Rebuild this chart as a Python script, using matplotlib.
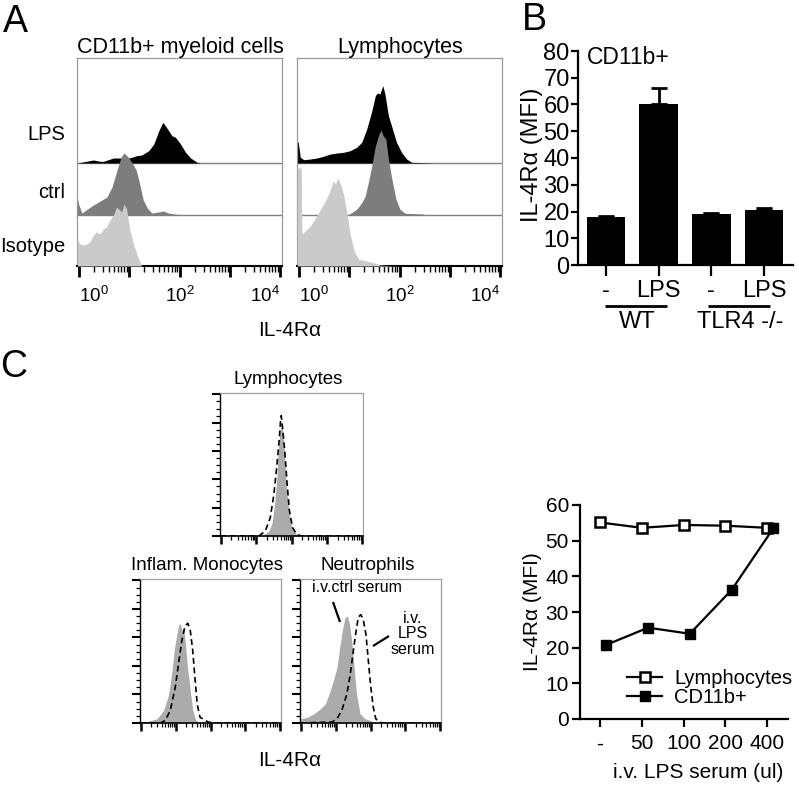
import numpy as np
import matplotlib
matplotlib.use('Agg')
import matplotlib.pyplot as plt
from matplotlib.lines import Line2D
from matplotlib.transforms import ScaledTranslation

plt.rcParams['font.family'] = ['Liberation Sans', 'DejaVu Sans']
plt.rcParams['mathtext.fontset'] = 'custom'
plt.rcParams['mathtext.rm'] = 'Liberation Sans'
plt.rcParams['mathtext.it'] = 'Liberation Sans:italic'
plt.rcParams['mathtext.bf'] = 'Liberation Sans:bold'

# ---------------- data ----------------
# Panel A: flow histograms (x = log10 intensity, y = counts)
A_titles = ['CD11b+ myeloid cells', 'Lymphocytes']
A_rows = ['LPS', 'ctrl', 'Isotype']

my_lps_x = [-0.03, 0.15, 0.29, 0.42, 0.49, 0.69, 0.82, 0.95, 1.05, 1.15, 1.25, 1.39,
            1.49, 1.59, 1.67, 1.75, 1.85, 1.92, 2.02, 2.12, 2.22, 2.35, 2.42]
my_lps_y = [0, 1.7, 3, 1.7, 1.7, 5, 5, 4.3, 5.7, 7.3, 8, 12.3,
            19, 32.3, 40.7, 35, 27.3, 25.7, 19, 10.7, 5, 0.7, 0]
my_ctrl_x = [-0.03, -0.01, 0.06, 0.26, 0.56, 0.66, 0.76, 0.84, 0.90, 0.98, 1.06, 1.14,
             1.20, 1.28, 1.36, 1.45, 1.58, 1.68, 1.78, 1.95, 2.09]
my_ctrl_y = [18, 12, 2, 9, 18, 28, 45, 58, 62, 58, 52, 45,
             33, 15, 7, 2, 3, 4, 2, 0.7, 0]
my_iso_x = [-0.03, 0.02, 0.12, 0.22, 0.29, 0.35, 0.42, 0.49, 0.55, 0.62, 0.69, 0.75,
            0.81, 0.85, 0.90, 0.95, 1.01, 1.09, 1.19, 1.25]
my_iso_y = [27, 22, 21, 24, 31, 34, 32, 37, 39, 46, 51, 59,
            56, 54, 62, 57, 37, 21, 7, 0]

ly_lps_x = [-0.03, -0.01, 0.03, 0.10, 0.23, 0.36, 0.49, 0.63, 0.76, 0.89, 1.02, 1.15,
            1.25, 1.35, 1.45, 1.52, 1.56, 1.61, 1.67, 1.71, 1.78, 1.85, 1.94, 2.04,
            2.14, 2.24, 2.34, 2.70]
ly_lps_y = [21, 21, 5.7, 3.3, 4, 5, 6.7, 9, 10, 10.7, 12.3, 15.7,
            20.7, 34, 52, 67.3, 70, 69, 77.3, 69, 47.3, 35.7, 20.7, 10.7,
            4, 0.7, 0.5, 0]
ly_ctrl_x = [0.96, 1.05, 1.15, 1.25, 1.32, 1.38, 1.45, 1.52, 1.58, 1.63, 1.68, 1.73,
             1.78, 1.85, 1.93, 2.01, 2.11, 2.47, 2.54]
ly_ctrl_y = [0, 2.3, 5.7, 12.3, 19, 32.3, 49, 69, 79, 85, 79, 75.7,
             55.7, 35.7, 15.7, 5.7, 1.7, 1, 0]
ly_iso_x = [-0.03, 0.05, 0.06, 0.13, 0.23, 0.33, 0.43, 0.49, 0.56, 0.63, 0.68, 0.73,
            0.77, 0.82, 0.89, 0.96, 1.02, 1.10, 1.19, 1.35, 1.48, 1.61, 1.81, 2.01]
ly_iso_y = [98, 98, 32, 35, 40, 48, 56.7, 61.7, 68, 76.7, 85, 81.7,
            88, 83, 71.7, 51.7, 31.7, 15, 6.7, 5, 3.3, 1, 0.3, 0]

# Panel B: bar chart
B_ticklabels = ['-', 'LPS', '-', 'LPS']
B_groups = ['WT', 'TLR4 -/-']
B_values = [17.9, 60.3, 19.1, 20.4]
B_errors = [0.3, 5.8, 0.3, 0.9]

# Panel C: histograms (% of max)
C_titles = ['Lymphocytes', 'Inflam. Monocytes', 'Neutrophils']
cl_fill_x = [0, 1.17, 1.36, 1.45, 1.52, 1.58, 1.62, 1.67, 1.71, 1.76, 1.81, 1.85, 1.92, 2.01, 2.15, 2.29, 4.0]
cl_fill_y = [0, 0, 3.5, 9, 22, 39, 57, 72, 80, 73, 55, 36, 18, 6, 1, 0, 0]
cl_dash_x = [0, 1.08, 1.26, 1.40, 1.50, 1.58, 1.65, 1.69, 1.71, 1.75, 1.81, 1.87, 1.94, 2.03, 2.15, 2.29, 4.0]
cl_dash_y = [0, 0, 3.5, 13, 29, 48, 67, 81, 85, 76, 60, 39, 18, 6, 1, 0, 0]

cm_fill_x = [0, 0.14, 0.47, 0.66, 0.80, 0.90, 0.96, 1.02, 1.08, 1.13, 1.18, 1.23, 1.27, 1.34, 1.42, 1.49, 1.58, 1.70, 4.0]
cm_fill_y = [0, 0.7, 3, 9, 20, 37, 51, 60, 68, 70, 65, 67, 58, 39, 23, 9, 2, 0, 0]
cm_dash_x = [0, 0.57, 0.71, 0.85, 0.99, 1.08, 1.18, 1.27, 1.35, 1.42, 1.49, 1.56, 1.62, 1.70, 1.84, 1.93, 2.08, 4.0]
cm_dash_y = [0, 0, 2, 9, 25, 41, 58, 68, 70, 65, 51, 30, 13, 4, 2, 0.7, 0, 0]

cn_fill_x = [0, 0.19, 0.38, 0.57, 0.71, 0.85, 0.94, 1.04, 1.13, 1.21, 1.27, 1.34, 1.40, 1.46, 1.53, 1.60, 1.70, 1.84, 1.98, 2.08, 2.2, 4.0]
cn_fill_y = [3, 4, 6.5, 10, 13.5, 23, 30, 39, 55, 67, 74, 75, 69, 58, 39, 20, 6.5, 3, 2, 0.7, 0, 0]
cn_dash_x = [0, 0.90, 1.04, 1.18, 1.32, 1.42, 1.51, 1.59, 1.65, 1.72, 1.79, 1.87, 1.93, 2.00, 2.08, 2.15, 2.26, 2.36, 4.0]
cn_dash_y = [0, 0.7, 3, 9, 20, 34, 51, 65, 74, 76, 73, 62, 46, 27, 11, 3, 0.7, 0, 0]

# Panel C: line chart
C_doses = ['-', '50', '100', '200', '400']
C_lymph = [55.1, 53.6, 54.4, 54.2, 53.6]
C_cd11b = [20.8, 25.6, 23.9, 36.2, 53.5]

# ---------------- figure ----------------
W, H = 799, 786
fig = plt.figure(figsize=(W / 100, H / 100), dpi=100)


def box(x0, y0, x1, y1):
    return fig.add_axes([x0 / W, 1 - y1 / H, (x1 - x0) / W, (y1 - y0) / H])


def ftext(x, y, s, **kw):
    kw.setdefault('ha', 'center')
    kw.setdefault('va', 'center')
    fig.text(x / W, 1 - y / H, s, **kw)


def fline(x0, y0, x1, y1, lw=1.5, color='black'):
    fig.add_artist(Line2D([x0 / W, x1 / W], [1 - y0 / H, 1 - y1 / H], lw=lw,
                          color=color, transform=fig.transFigure, solid_capstyle='butt'))


def log_ticks(ax, major_len, minor_len, major_w, minor_w):
    ax.set_xticks(np.arange(0, 5))
    ax.set_xticks([d + np.log10(k) for d in range(4) for k in range(2, 10)], minor=True)
    ax.tick_params(axis='x', which='major', direction='out', length=major_len, width=major_w)
    ax.tick_params(axis='x', which='minor', direction='out', length=minor_len, width=minor_w)


# ---- Panel A ----
ftext(15, 22, 'A', fontsize=27)
offsets = {'LPS': 103, 'ctrl': 51, 'Isotype': 0}
colors = {'LPS': 'black', 'ctrl': '#7d7d7d', 'Isotype': '#cacaca'}
A_data = [
    {'LPS': (my_lps_x, my_lps_y), 'ctrl': (my_ctrl_x, my_ctrl_y), 'Isotype': (my_iso_x, my_iso_y)},
    {'LPS': (ly_lps_x, ly_lps_y), 'ctrl': (ly_ctrl_x, ly_ctrl_y), 'Isotype': (ly_iso_x, ly_iso_y)},
]
for i, (x0, x1, xc) in enumerate([(77, 282, 180), (297, 502, 400)]):
    ax = box(x0, 58, x1, 266)
    ax.set_xlim(-0.035, 4.035)
    ax.set_ylim(0, 208)
    ax.axhline(offsets['LPS'], color='#808080', lw=1.0, zorder=1)
    ax.axhline(offsets['ctrl'], color='#808080', lw=1.0, zorder=1)
    for z, row in enumerate(A_rows):
        xs, ys = A_data[i][row]
        off = offsets[row]
        ax.fill_between(xs, off, off + np.array(ys), color=colors[row], lw=0, zorder=2 + z)
    for s in ['top', 'right', 'left']:
        ax.spines[s].set_color('#9a9a9a')
        ax.spines[s].set_linewidth(0.9)
    ax.spines['bottom'].set_color('black')
    ax.spines['bottom'].set_linewidth(1.5)
    ax.set_yticks([])
    log_ticks(ax, 8, 4, 2.0, 1.0)
    ax.set_xticklabels([r'$10^0$', '', r'$10^2$', '', r'$10^4$'], fontsize=13.5)
    labs = ax.get_xticklabels()
    for lab, ha, dx in [(labs[0], 'left', 5), (labs[2], 'center', 6), (labs[4], 'right', 2)]:
        lab.set_ha(ha)
        lab.set_transform(lab.get_transform() + ScaledTranslation(dx / 100, 0, fig.dpi_scale_trans))
    ax.tick_params(axis='x', pad=6)
    ftext(xc, 47, A_titles[i], fontsize=15.5)

ftext(65, 135, 'LPS', fontsize=14.5, ha='right')
ftext(65, 193, 'ctrl', fontsize=14.5, ha='right')
ftext(65, 247, 'Isotype', fontsize=14.5, ha='right')
ftext(290, 331, 'IL-4Rα', fontsize=15)

# ---- Panel B ----
ftext(534, 20, 'B', fontsize=27)
axB = box(578, 51, 793, 265)
xb = np.arange(len(B_values))
axB.bar(xb, B_values, width=0.73, color='black', zorder=2)
axB.errorbar(xb, B_values, yerr=[np.zeros(len(B_errors)), B_errors], fmt='none',
             ecolor='black', elinewidth=2, capsize=6, capthick=2, zorder=1)
axB.set_xlim(-0.53, 3.55)
axB.set_ylim(0, 80)
axB.set_yticks(np.arange(0, 81, 10))
axB.set_xticks(xb)
axB.set_xticklabels(B_ticklabels)
axB.spines['top'].set_visible(False)
axB.spines['right'].set_visible(False)
for s in ['left', 'bottom']:
    axB.spines[s].set_linewidth(1.6)
axB.tick_params(axis='y', length=5, width=1.6, labelsize=17, pad=1)
axB.tick_params(axis='x', length=8, width=1.6, labelsize=17, pad=3)
axB.text(0.04, 0.97, 'CD11b+', transform=axB.transAxes, fontsize=16.5, ha='left', va='center')
ftext(532, 155, 'IL-4Rα (MFI)', fontsize=17, rotation=90)
fline(605, 306, 667, 306, lw=2)
fline(708, 306, 770, 306, lw=2)
ftext(637, 322, B_groups[0], fontsize=17)
ftext(740, 322, B_groups[1], fontsize=17)

# ---- Panel C histograms ----
ftext(14, 367, 'C', fontsize=27)
C_data = [(cl_fill_x, cl_fill_y, cl_dash_x, cl_dash_y),
          (cm_fill_x, cm_fill_y, cm_dash_x, cm_dash_y),
          (cn_fill_x, cn_fill_y, cn_dash_x, cn_dash_y)]
C_boxes = [(220, 393, 363, 536), (140, 579, 281, 723), (300, 579, 441, 723)]
C_title_pos = [(288, 379), (207, 565), (368, 565)]
for k in range(3):
    ax = box(*C_boxes[k])
    fx, fy, dx, dy = C_data[k]
    ax.fill_between(fx, 0, fy, color='#ababab', lw=0, zorder=2)
    ax.plot(dx, dy, color='black', lw=1.2, ls=(0, (3.5, 2.2)), zorder=3)
    ax.set_xlim(-0.02, 4.02)
    ax.set_ylim(0, 101)
    ax.set_yticks(np.arange(0, 101, 20))
    ax.set_yticks(np.arange(0, 101, 5), minor=True)
    ax.tick_params(axis='y', which='major', direction='out', length=6, width=1.5, labelleft=False)
    ax.tick_params(axis='y', which='minor', direction='out', length=3, width=0.9)
    log_ticks(ax, 6, 3, 1.8, 0.9)
    ax.tick_params(axis='x', labelbottom=False)
    for s in ['top', 'right']:
        ax.spines[s].set_color('#a0a0a0')
        ax.spines[s].set_linewidth(0.9)
    ax.spines['left'].set_linewidth(1.0)
    ax.spines['bottom'].set_linewidth(1.2)
    ftext(*C_title_pos[k], C_titles[k], fontsize=13.5)

ftext(357, 587, 'i.v.ctrl serum', fontsize=11.5)
fline(333, 602, 340, 622, lw=1.6)
ftext(413, 634, 'i.v.\nLPS\nserum', fontsize=11.5, linespacing=1.05)
fline(373, 646, 389, 636, lw=1.6)
ftext(290, 760, 'IL-4Rα', fontsize=15)

# ---- Panel C line chart ----
axL = box(580, 505, 788, 719)
xs = np.arange(len(C_doses))
axL.plot(xs, C_lymph, color='black', lw=1.6, marker='s', ms=7.5, mfc='white',
         mec='black', mew=1.8, label='Lymphocytes', zorder=3)
axL.plot(xs + 0.15, C_cd11b, color='black', lw=1.6, marker='s', ms=7.5, mfc='black',
         mec='black', label='CD11b+', zorder=3)
axL.set_xlim(-0.48, 4.5)
axL.set_ylim(0, 60)
axL.set_yticks(np.arange(0, 61, 10))
axL.set_xticks(xs)
axL.set_xticklabels(C_doses)
axL.spines['top'].set_visible(False)
axL.spines['right'].set_visible(False)
for s in ['left', 'bottom']:
    axL.spines[s].set_linewidth(1.6)
axL.tick_params(axis='both', length=6, width=1.6, labelsize=15)
axL.tick_params(axis='y', pad=2)
axL.tick_params(axis='x', pad=5)
ftext(533, 612, 'IL-4Rα (MFI)', fontsize=15, rotation=90)
ftext(698, 773, 'i.v. LPS serum (ul)', fontsize=15)
axL.legend(loc='lower left', bbox_to_anchor=(627 / W, 1 - 707 / H), bbox_transform=fig.transFigure,
           frameon=False, fontsize=14.5, labelspacing=0.0, handlelength=1.75,
           handletextpad=0.6, borderpad=0, borderaxespad=0)

fig.savefig('out.png', dpi=100)
